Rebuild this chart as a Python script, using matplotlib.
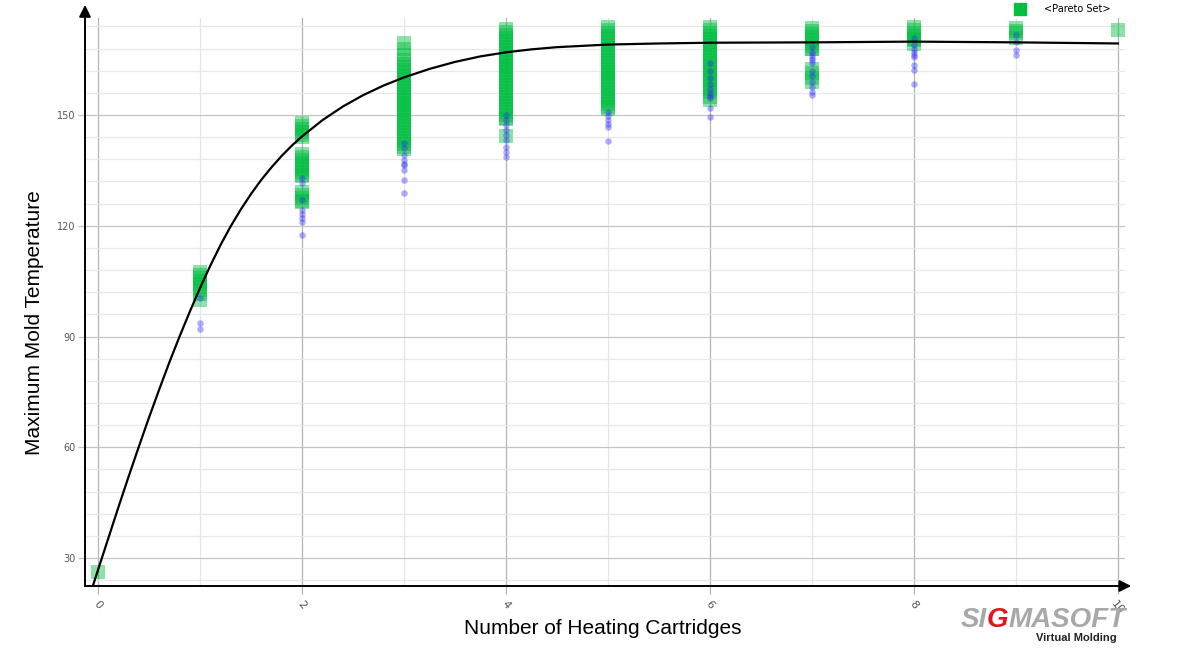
import matplotlib.pyplot as plt
from matplotlib.lines import Line2D
from matplotlib.ticker import MultipleLocator
from matplotlib.offsetbox import TextArea, HPacker, AnnotationBbox

# Pareto set (green squares), one list per cartridge count
pareto = {
    0: [26.2],
    1: [107.5, 106.7, 105.9, 105.1, 104.3, 103.5, 102.7, 101.5, 100.0],
    2: [147.8, 147.0, 146.2, 145.4, 144.6, 144.0, 139.4, 138.6, 137.8, 137.0,
        136.2, 135.4, 134.6, 133.8, 133.5, 129.1, 128.3, 127.5, 126.8, 126.4],
    3: [169.5, 167.8, 166.3, 164.8, 163.8, 163.0, 162.2, 161.4, 160.6, 159.8,
        159.0, 158.2, 157.4, 156.6, 155.8, 155.0, 154.2, 153.4, 152.6, 151.8,
        151.0, 150.2, 149.4, 148.6, 147.8, 147.0, 146.2, 145.4, 144.6, 143.8,
        143.0, 142.2, 141.4, 140.8],
    4: [173.3, 172.5, 171.7, 170.9, 170.1, 169.3, 168.5, 167.7, 166.9, 166.1,
        165.3, 164.5, 163.7, 162.9, 162.1, 161.3, 160.5, 159.7, 158.9, 158.1,
        157.3, 156.5, 155.7, 154.9, 154.1, 153.3, 152.5, 151.7, 150.9, 150.1,
        149.3, 148.9, 144.3],
    5: [173.8, 173.0, 172.2, 171.4, 170.6, 169.8, 169.0, 168.2, 167.4, 166.6,
        165.8, 165.0, 164.2, 163.4, 162.6, 161.8, 161.0, 160.2, 159.4, 158.6,
        157.8, 157.0, 156.2, 155.4, 154.6, 153.8, 153.0, 152.2, 151.6],
    6: [173.8, 173.0, 172.2, 171.4, 170.6, 169.8, 169.0, 168.2, 167.4, 166.6,
        165.8, 165.0, 164.2, 163.4, 162.6, 161.8, 161.0, 160.2, 159.4, 158.6,
        157.8, 157.0, 156.2, 155.0, 154.0],
    7: [173.6, 172.8, 172.0, 171.2, 170.4, 169.6, 168.8, 168.0, 167.9,
        162.5, 161.3, 160.1, 159.0],
    8: [173.8, 173.0, 172.2, 171.4, 170.6, 170.3, 169.2],
    9: [173.6, 172.8, 172.2, 171.0],
    10: [173.0],
}

# other evaluated designs (blue dots)
designs = {
    1: [100.3, 93.7, 91.9],
    2: [133.0, 131.6, 127.0, 124.3, 123.2, 122.1, 121.0, 117.5],
    3: [142.4, 141.1, 139.2, 137.8, 136.8, 136.4, 135.1, 132.4, 128.9],
    4: [150.0, 148.6, 147.3, 145.9, 144.6, 143.2, 141.3, 140.0, 138.6],
    5: [150.8, 149.7, 148.6, 147.6, 146.7, 143.0],
    6: [164.0, 162.0, 160.0, 158.5, 157.0, 156.0, 155.3, 154.5, 151.9, 149.5],
    7: [168.4, 167.0, 166.3, 165.5, 164.8, 164.0, 162.0, 160.5, 159.0, 157.5,
        156.2, 155.5],
    8: [171.0, 168.9, 167.8, 167.0, 166.4, 165.6, 163.5, 162.1, 158.4],
    9: [171.7, 169.8, 167.6, 166.3],
}

# trend curve
curve_x = [-0.05, 0.0, 0.1, 0.2, 0.3, 0.4, 0.5, 0.6, 0.7, 0.8, 0.9, 1.0, 1.1,
           1.2, 1.3, 1.4, 1.5, 1.6, 1.7, 1.8, 1.9, 2.0, 2.2, 2.4, 2.6, 2.8,
           3.0, 3.25, 3.5, 3.75, 4.0, 4.25, 4.5, 5.0, 5.5, 6.0, 7.0, 8.0, 9.0,
           10.0]
curve_y = [22.4, 26.7, 35.2, 43.7, 52.0, 60.1, 68.0, 75.6, 83.0, 90.0, 96.7,
           103.1, 109.1, 114.7, 119.8, 124.4, 128.6, 132.4, 135.8, 138.9,
           141.7, 144.2, 148.6, 152.3, 155.4, 158.0, 160.2, 162.5, 164.4,
           165.9, 167.0, 167.8, 168.4, 169.1, 169.4, 169.6, 169.7, 169.9,
           169.7, 169.4]

W, H = 1181, 649
fig = plt.figure(figsize=(W / 100, H / 100), dpi=100)
ax = fig.add_axes([85 / W, 63 / H, 1040 / W, 568 / H])
ax.set_xlim(-0.127, 10.069)
ax.set_ylim(22.4, 176.3)

# grid
ax.xaxis.set_major_locator(MultipleLocator(2))
ax.xaxis.set_minor_locator(MultipleLocator(1))
ax.yaxis.set_major_locator(MultipleLocator(30))
ax.yaxis.set_minor_locator(MultipleLocator(6))
ax.grid(which="major", axis="x", color="#b4b4b4", lw=0.9)
ax.grid(which="minor", axis="x", color="#e6e6e6", lw=0.9)
ax.grid(which="major", axis="y", color="#c4c4c4", lw=0.9)
ax.grid(which="minor", axis="y", color="#e8e8e8", lw=0.9)
ax.set_axisbelow(True)
ax.tick_params(which="minor", length=0)
ax.tick_params(axis="y", which="major", length=5, width=0.9, color="#c4c4c4",
               labelsize=7, labelcolor="#555555", pad=2)
ax.tick_params(axis="x", which="major", length=6, width=0.9, color="#b4b4b4",
               labelsize=8, labelcolor="#555555", pad=3)
for lab in ax.get_xticklabels():
    lab.set_rotation(-50)
    lab.set_ha("center")
for s in ax.spines.values():
    s.set_visible(False)

# points
for k, vals in pareto.items():
    ax.scatter([k] * len(vals), vals, marker="s", s=88, color="#00c040",
               alpha=0.45, lw=0, zorder=3)
for k, vals in designs.items():
    ax.scatter([k] * len(vals), vals, marker="o", s=22, color="#2a2aff",
               alpha=0.38, lw=0, zorder=4)

ax.plot(curve_x, curve_y, color="black", lw=1.6, zorder=5)

# axes with arrow heads
ax.annotate("", xy=(0, 1.023), xytext=(0, 0), xycoords="axes fraction",
            arrowprops=dict(arrowstyle="-|>,head_length=0.7,head_width=0.35",
                            color="black", lw=1.4, shrinkA=0, shrinkB=0),
            annotation_clip=False, zorder=6)
ax.annotate("", xy=(1.006, 0), xytext=(0, 0), xycoords="axes fraction",
            arrowprops=dict(arrowstyle="-|>,head_length=0.7,head_width=0.35",
                            color="black", lw=1.4, shrinkA=0, shrinkB=0),
            annotation_clip=False, zorder=6)

fig.text(603 / W, 1 - 629 / H, "Number of Heating Cartridges", ha="center",
         va="center", fontsize=15, family="Liberation Sans")
fig.text(35 / W, 1 - 323 / H, "Maximum Mold Temperature", ha="center",
         va="center", rotation=90, fontsize=15, family="Liberation Sans")

# legend
proxy = Line2D([], [], marker="s", color="#00c040", ls="none", ms=8)
ax.legend([proxy], ["<Pareto Set>"], loc="center left",
          bbox_to_anchor=(1015 / W, 1 - 9 / H), bbox_transform=fig.transFigure,
          frameon=False, fontsize=7, handlelength=1, handletextpad=2.0,
          borderpad=0, borderaxespad=0)

# logo
logo_font = dict(size=20, weight="bold", style="italic", family="Liberation Sans")
parts = [TextArea("SI", textprops=dict(color="#a8a8a8", **logo_font)),
         TextArea("G", textprops=dict(color="#e3141c", **logo_font)),
         TextArea("MASOFT", textprops=dict(color="#a8a8a8", **logo_font))]
logo = HPacker(children=parts, sep=0, pad=0, align="baseline")
fig.add_artist(AnnotationBbox(logo, (1126, 29), xycoords="figure pixels",
                              box_alignment=(1, 0.5), frameon=False, pad=0))
fig.text(1117 / W, 1 - 638 / H, "Virtual Molding", ha="right", va="center",
         fontsize=8, weight="bold", family="Liberation Sans", color="#222222")

fig.savefig("out.png", dpi=100)
